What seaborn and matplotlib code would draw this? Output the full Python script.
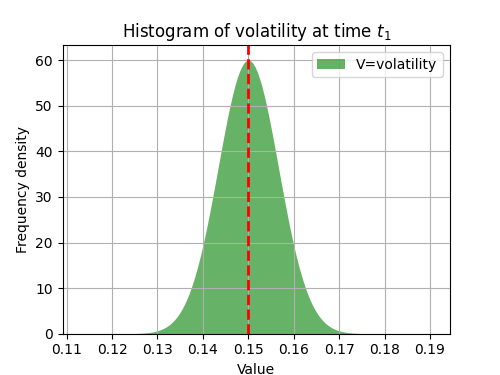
import matplotlib
matplotlib.use("Agg")
import matplotlib.pyplot as plt
import seaborn as sns
import numpy as np
import pandas as pd

# Bin centres (step 0.0005) and frequency densities
bin_centers = [round(0.125 + 0.0005 * i, 4) for i in range(101)]
density = [
    0.05, 0.07, 0.09, 0.12, 0.15, 0.20, 0.25, 0.32, 0.41, 0.52,
    0.65, 0.81, 1.01, 1.25, 1.54, 1.88, 2.29, 2.76, 3.32, 3.97,
    4.71, 5.57, 6.54, 7.64, 8.88, 10.26, 11.78, 13.45, 15.28, 17.25,
    19.37, 21.63, 24.01, 26.51, 29.10, 31.76, 34.47, 37.21, 39.94, 42.62,
    45.23, 47.72, 50.07, 52.24, 54.20, 55.91, 57.35, 58.49, 59.33, 59.83,
    60.00,
    59.83, 59.33, 58.49, 57.35, 55.91, 54.20, 52.24, 50.07, 47.72, 45.23,
    42.62, 39.94, 37.21, 34.47, 31.76, 29.10, 26.51, 24.01, 21.63, 19.37,
    17.25, 15.28, 13.45, 11.78, 10.26, 8.88, 7.64, 6.54, 5.57, 4.71,
    3.97, 3.32, 2.76, 2.29, 1.88, 1.54, 1.25, 1.01, 0.81, 0.65,
    0.52, 0.41, 0.32, 0.25, 0.20, 0.15, 0.12, 0.09, 0.07, 0.05,
]
mean_value = 0.15
xtick_values = [0.11, 0.12, 0.13, 0.14, 0.15, 0.16, 0.17, 0.18, 0.19]

width = 0.0005
edges = [c - width / 2 for c in bin_centers] + [bin_centers[-1] + width / 2]
df = pd.DataFrame({"value": bin_centers, "density": density})

fig, ax = plt.subplots(figsize=(5, 3.75), dpi=100)
sns.histplot(data=df, x="value", weights="density", bins=edges, stat="count",
             element="poly", fill=True,
             color="green", alpha=0.6, linewidth=0,
             label="V=volatility", ax=ax)
ax.axvline(mean_value, color="red", linestyle="--", linewidth=2)

ax.set_xlim(0.1091, 0.1944)
ax.set_ylim(0, 63.3)
ax.set_xticks(xtick_values)
ax.set_xticklabels([f"{v:.2f}" for v in xtick_values])
ax.grid(True)
ax.set_title("Histogram of volatility at time $t_1$")
ax.set_xlabel("Value")
ax.set_ylabel("Frequency density")
ax.legend(loc="upper right")

fig.savefig("out.png", dpi=100)
